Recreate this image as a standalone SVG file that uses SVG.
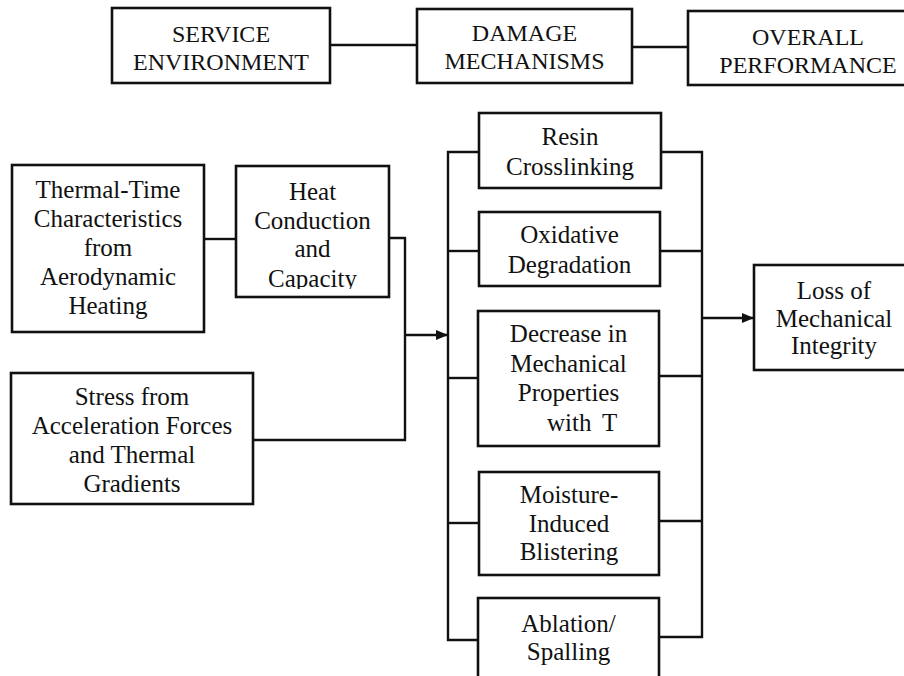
<svg xmlns="http://www.w3.org/2000/svg" width="904" height="676" viewBox="0 0 904 676">
<style>
.box{fill:#fff;stroke:#111;stroke-width:2.6}
.ln{fill:none;stroke:#111;stroke-width:2.4}
text{font-family:'Liberation Serif','DejaVu Serif',serif;font-size:25px;fill:#111;text-anchor:middle}
.hd{font-size:24px}
</style>
<defs>
<marker id="arr" markerWidth="12" markerHeight="10" refX="11" refY="5" orient="auto" markerUnits="userSpaceOnUse">
<path d="M0,0 L12,5 L0,10 Z" fill="#111"/>
</marker>
<clipPath id="heatClip"><rect x="236" y="166" width="153" height="123"/></clipPath>
</defs>
<rect width="904" height="676" fill="#fff"/>
<g id="connectors">
<line class="ln" x1="330" y1="45" x2="417" y2="45"/>
<line class="ln" x1="632" y1="47" x2="688" y2="47"/>
<line class="ln" x1="204" y1="239" x2="236" y2="239"/>
<polyline class="ln" points="389,238 405,238 405,440 253,440"/>
<line class="ln" x1="405" y1="335" x2="447" y2="335" marker-end="url(#arr)"/>
<polyline class="ln" points="479,152 448,152 448,640 478,640"/>
<line class="ln" x1="448" y1="251" x2="479" y2="251"/>
<line class="ln" x1="448" y1="378" x2="478" y2="378"/>
<line class="ln" x1="448" y1="523" x2="479" y2="523"/>
<polyline class="ln" points="661,152 702,152 702,637 659,637"/>
<line class="ln" x1="660" y1="251" x2="702" y2="251"/>
<line class="ln" x1="659" y1="376" x2="702" y2="376"/>
<line class="ln" x1="659" y1="521" x2="702" y2="521"/>
<line class="ln" x1="702" y1="318" x2="753" y2="318" marker-end="url(#arr)"/>
</g>
<g font-family="'Liberation Serif', 'DejaVu Serif', serif">
<g id="service-environment">
<rect class="box" x="112" y="8" width="218" height="75"/>
<text class="hd" x="221" y="42">SERVICE</text>
<text class="hd" x="221" y="70">ENVIRONMENT</text>
</g>
<g id="damage-mechanisms">
<rect class="box" x="417" y="9" width="215" height="74"/>
<text class="hd" x="524.5" y="41">DAMAGE</text>
<text class="hd" x="524.5" y="69">MECHANISMS</text>
</g>
<g id="overall-performance">
<rect class="box" x="688" y="11" width="240" height="74"/>
<text class="hd" x="808" y="45">OVERALL</text>
<text class="hd" x="808" y="73">PERFORMANCE</text>
</g>
<g id="thermal-time">
<rect class="box" x="12" y="165" width="192" height="167"/>
<text x="108" y="198">Thermal-Time</text>
<text x="108" y="227">Characteristics</text>
<text x="108" y="256">from</text>
<text x="108" y="285">Aerodynamic</text>
<text x="108" y="314">Heating</text>
</g>
<g id="heat-conduction">
<rect class="box" x="236" y="166" width="153" height="131"/>
<g clip-path="url(#heatClip)">
<text x="312.5" y="200">Heat</text>
<text x="312.5" y="229">Conduction</text>
<text x="312.5" y="257">and</text>
<text x="312.5" y="287">Capacity</text>
</g>
</g>
<g id="stress">
<rect class="box" x="11" y="373" width="242" height="131"/>
<text x="132" y="405">Stress from</text>
<text x="132" y="434">Acceleration Forces</text>
<text x="132" y="463">and Thermal</text>
<text x="132" y="492">Gradients</text>
</g>
<g id="resin-crosslinking">
<rect class="box" x="479" y="113" width="182" height="75"/>
<text x="570" y="145">Resin</text>
<text x="570" y="175">Crosslinking</text>
</g>
<g id="oxidative-degradation">
<rect class="box" x="479" y="212" width="181" height="74"/>
<text x="569.5" y="243">Oxidative</text>
<text x="569.5" y="273">Degradation</text>
</g>
<g id="decrease-mechanical">
<rect class="box" x="478" y="311" width="181" height="135"/>
<text x="568.5" y="342">Decrease in</text>
<text x="568.5" y="372">Mechanical</text>
<text x="568.5" y="401">Properties</text>
<text x="547" y="431" style="text-anchor:start">with</text>
<text x="602" y="431" style="text-anchor:start">T</text>
</g>
<g id="moisture-blistering">
<rect class="box" x="479" y="472" width="180" height="103"/>
<text x="569" y="503">Moisture-</text>
<text x="569" y="532">Induced</text>
<text x="569" y="560">Blistering</text>
</g>
<g id="ablation-spalling">
<rect class="box" x="478" y="598" width="181" height="100"/>
<text x="568.5" y="632">Ablation/</text>
<text x="568.5" y="660">Spalling</text>
</g>
<g id="loss-integrity">
<rect class="box" x="754" y="265" width="160" height="105"/>
<text x="834" y="299">Loss of</text>
<text x="834" y="327">Mechanical</text>
<text x="834" y="354">Integrity</text>
</g>
</g>
</svg>
